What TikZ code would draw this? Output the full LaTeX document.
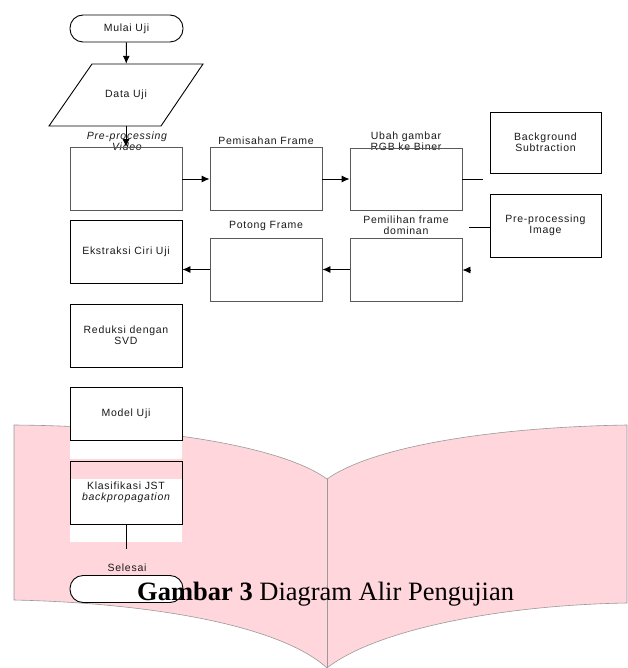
\documentclass[tikz,border=0pt]{standalone}
\usepackage{fontspec}
\usetikzlibrary{arrows.meta}
\newfontfamily\flow{Liberation Sans}[LetterSpace=7]
\newfontfamily\capfont{Liberation Serif}
\definecolor{bookpink}{RGB}{255,214,219}
\begin{document}
\begin{tikzpicture}[x=1pt,y=-1pt,
  fl/.style={font=\flow\fontsize{10.5}{11}\selectfont, text=black!90},
  box/.style={fl, draw, rectangle, minimum width=112pt, minimum height=63pt, inner sep=0pt, align=center, line width=0.9pt},
  gbox/.style={box, draw=black!65},
  lbl/.style={fl, align=center, inner sep=0pt},
  term/.style={fl, draw, fill=white, rounded corners=13pt, minimum width=113pt, minimum height=27pt, inner sep=0pt, line width=0.9pt},
  arr/.style={-{Latex[length=8pt,width=7pt]}, line width=0.9pt},
  ln/.style={line width=0.9pt},
  bookline/.style={draw=black!40, line width=0.6pt}
]
\useasboundingbox (0,0) rectangle (627,668);
% open book background
\path[fill=bookpink, bookline]
  (14,425) .. controls (150,426) and (280,445) .. (327,479)
  .. controls (375,445) and (500,427) .. (627,425)
  -- (627,603)
  .. controls (500,605) and (375,630) .. (327,668)
  .. controls (280,625) and (150,603) .. (14,600) -- cycle;
\draw[bookline] (327,479) -- (327,668);
% white patches
\fill[white] (70,440) rectangle (182,459);
\fill[white] (70,479) rectangle (182,542);
% labels above boxes
\node[lbl, font=\flow\itshape\fontsize{10.5}{11}\selectfont] (lpv) at (127,141) {Pre-processing\\Video};
\node[lbl] (lpf) at (266,141) {Pemisahan Frame};
\node[lbl] (lrgb) at (406,141) {Ubah gambar\\RGB ke Biner};
\node[lbl] (lpfd) at (406,225) {Pemilihan frame\\dominan};
\node[lbl] (lpot) at (266,226) {Potong Frame};
\node[lbl] (lsel) at (127,568) {Selesai};
% nodes
\node[term] (mulai) at (126.5,28.5) {Mulai Uji};
\node[fl, minimum width=68pt, minimum height=62pt, inner sep=0pt] (data) at (126,95) {Data Uji};
\draw[ln] (92,64) -- (203,64) -- (161,126) -- (49,126) -- cycle;
\node[gbox] (pv) at (126,179) {};
\node[gbox] (pf) at (266,179) {};
\node[gbox, minimum height=62pt] (rgb) at (406,179) {};
\node[box, minimum width=111pt, minimum height=61pt] (bs) at (545.5,142.5) {Background\\Subtraction};
\node[box, minimum width=111pt] (ppi) at (545.5,225.5) {Pre-processing\\Image};
\node[gbox] (pfd) at (406,269.5) {};
\node[gbox] (pot) at (266,269.5) {};
\node[box] (eks) at (126,251.5) {Ekstraksi Ciri Uji};
\node[box] (red) at (126,335.5) {Reduksi dengan\\SVD};
\node[box, fill=white, minimum height=53pt] (model) at (126,413.5) {Model Uji};
\node[box] (kls) at (126,492.5) {Klasifikasi JST\\\itshape backpropagation};
\node[term] (selesai) at (126.5,589) {};
% connector ends
\coordinate (rgbend) at (483,179);
\coordinate (ppistart) at (469,227);
\coordinate (pfdin) at (471,270);
\coordinate (klsend) at (126,549);
% connectors
\draw[arr] (mulai) -- (data);
\draw[arr] (data) -- (pv);
\draw[arr] (pv) -- (pf);
\draw[arr] (pf) -- (rgb);
\draw[ln] (rgb.east) -- (rgbend);
\draw[ln] (ppistart) -- (ppistart -| ppi.west);
\draw[arr] (pfdin) -- (pfdin -| pfd.east);
\draw[arr] (pfd.west) -- (pfd.west -| pot.east);
\draw[arr] (pot.west) -- (pot.west -| eks.east);
\draw[ln] (kls.south) -- (klsend);
% caption
\node[anchor=base west, inner sep=0pt, font=\capfont\fontsize{26.5}{30}\selectfont] (cap) at (137,600) {\textbf{Gambar 3} Diagram Alir Pengujian};
\end{tikzpicture}
\end{document}
